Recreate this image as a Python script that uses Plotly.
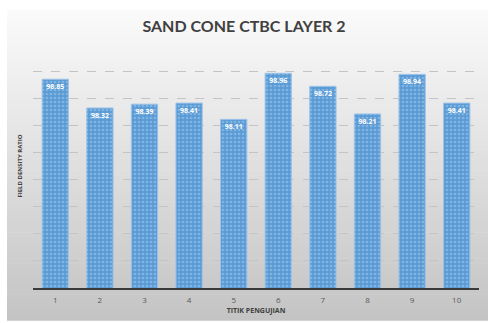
import plotly.graph_objects as go

# Sand cone test results, layer 2
points = ["1", "2", "3", "4", "5", "6", "7", "8", "9", "10"]
density_ratio = [98.85, 98.32, 98.39, 98.41, 98.11, 98.96, 98.72, 98.21, 98.94, 98.41]
labels = [f"{v:.2f}" for v in density_ratio]

W, H = 488, 323
L, R, T, B = 33, 9, 44, 33
pw, ph = W - L - R, H - T - B


def px_to_paper(px, py):
    return (px - L) / pw, (H - B - py) / ph


fig = go.Figure()

fig.add_trace(go.Bar(
    x=points,
    y=density_ratio,
    text=labels,
    textposition="inside",
    insidetextanchor="end",
    textangle=0,
    textfont=dict(family="Open Sans", size=7, color="white", weight="bold"),
    marker=dict(
        color="#5B9BD5",
        line=dict(color="#9cc3e8", width=1),
        pattern=dict(shape=".", fgcolor="#a9cdef", bgcolor="#5B9BD5",
                     size=4, solidity=0.35, fillmode="overlay"),
    ),
    cliponaxis=False,
))

# Panel background: vertical light-to-grey gradient
shapes = []
top_px, bot_px = 10, 323
n = 60
c_top = (250, 250, 250)
c_bot = (196, 196, 196)
for i in range(n):
    y0p = top_px + (bot_px - top_px) * i / n
    y1p = top_px + (bot_px - top_px) * (i + 1) / n
    t = i / (n - 1)
    c = tuple(int(round(a + (b - a) * t)) for a, b in zip(c_top, c_bot))
    x0, y0 = px_to_paper(7, y0p)
    x1, y1 = px_to_paper(W, y1p)
    shapes.append(dict(type="rect", xref="paper", yref="paper",
                       x0=x0, x1=x1, y0=y1, y1=y0 + 0.002,
                       fillcolor=f"rgb{c}", line=dict(width=0), layer="below"))

fig.update_layout(
    width=W, height=H,
    margin=dict(l=L, r=R, t=T, b=B),
    paper_bgcolor="white",
    plot_bgcolor="rgba(0,0,0,0)",
    shapes=shapes,
    bargap=0.41,
    showlegend=False,
    title=dict(text="SAND CONE CTBC LAYER 2", x=0.5, xanchor="center",
               y=1 - 26 / H, yanchor="middle",
               font=dict(family="Lato", size=16, color="#404040", weight="bold")),
    xaxis=dict(
        showline=True, linecolor="#3a3a3a", linewidth=1.5,
        ticks="", showgrid=False, ticklabelstandoff=4,
        tickfont=dict(family="Open Sans", size=8, color="#595959"),
        title=dict(text="TITIK PENGUJIAN", standoff=4,
                   font=dict(family="Open Sans", size=7, color="#404040", weight="bold")),
    ),
    yaxis=dict(
        range=[95, 99.5], dtick=0.5, showticklabels=False,
        showgrid=True, gridcolor="#c4c4c4", griddash="dash", gridwidth=1,
        zeroline=False, showline=False,
        title=dict(text="FIELD DENSITY RATIO", standoff=8,
                   font=dict(family="Open Sans", size=6, color="#404040", weight="bold")),
    ),
)

fig.write_html("out.html")
